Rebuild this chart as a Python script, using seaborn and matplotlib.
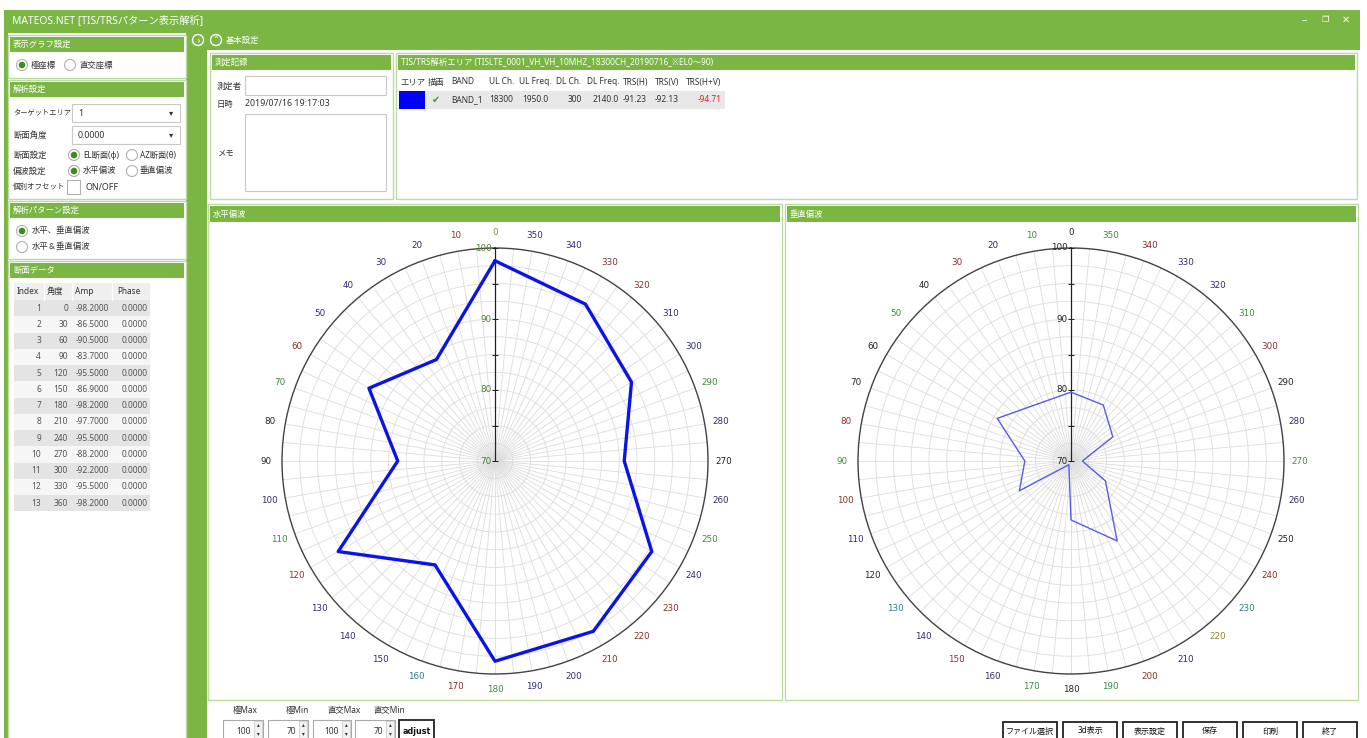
import numpy as np
import pandas as pd
import matplotlib
matplotlib.use("Agg")
import matplotlib.pyplot as plt
import seaborn as sns
from matplotlib.patches import Rectangle, Circle

# ---------------- data ----------------
angles = [0, 30, 60, 90, 120, 150, 180, 210, 240, 270, 300, 330, 360]
h_amp = [-98.2, -86.5, -90.5, -83.7, -95.5, -86.9, -98.2, -97.7, -95.5, -88.2, -92.2, -95.5, -98.2]
v_amp = [-79.7, -79.3, -82.0, -76.5, -78.4, -70.6, -78.3, -83.0, -75.6, -71.6, -76.8, -79.1, -79.7]
phase = [0.0, 0.0, 0.0, 0.0, 0.0, 0.0, 0.0, 0.0, 0.0, 0.0, 0.0, 0.0, 0.0]
row_index = [1, 2, 3, 4, 5, 6, 7, 8, 9, 10, 11, 12, 13]
r_min, r_max = 70, 100
radial_labels = [70, 80, 90, 100]

trs_header = ["エリア", "描画", "BAND", "UL Ch.", "UL Freq.", "DL Ch.", "DL Freq.", "TRS(H)", "TRS(V)", "TRS(H+V)"]
trs_row = ["", "✔", "BAND_1", "18300", "1950.0", "300", "2140.0", "-91.23", "-92.13", "-94.71"]

# label colours of angle ticks (0,10,...,350)
N, R, G, K, T, O = "#2e2e6e", "#8a2e2e", "#3f8a3f", "#222222", "#2a8080", "#8a8a2a"
h_label_colors = [O, R, N, N, N, N, R, G, K, K, N, G, R, N, N, N, T, R,
                  G, N, N, R, R, R, N, G, N, K, N, G, N, N, R, R, N, N]
v_label_colors = [K, G, N, R, K, G, K, K, R, G, R, N, K, T, N, R, N, G,
                  K, G, R, N, O, T, R, K, N, G, N, K, R, G, N, N, R, G]

# ---------------- style ----------------
sns.set_style("white")
plt.rcParams["font.family"] = ["Noto Sans", "Noto Sans CJK JP", "DejaVu Sans"]

W, H = 1367, 738
GREEN = "#7bb544"
LGREEN = "#bcdba0"
fig = plt.figure(figsize=(W / 100, H / 100), dpi=100)
fig.patch.set_facecolor("white")

bg = fig.add_axes([0, 0, 1, 1])
bg.set_xlim(0, W)
bg.set_ylim(H, 0)
bg.axis("off")
bg.set_zorder(0)

FS = 6.4
JS = 6.0


def rect(x, y, w, h, fc="white", ec="none", lw=1.0, z=1):
    bg.add_patch(Rectangle((x, y), w, h, fc=fc, ec=ec, lw=lw, zorder=z))


def txt(x, y, s, color="#333333", size=FS, ha="left", va="center", z=5, **kw):
    bg.text(x, y, s, color=color, fontsize=size, ha=ha, va=va, zorder=z, **kw)


def panel(x0, y0, x1, y1, title, hh=15):
    rect(x0, y0, x1 - x0, y1 - y0, fc="white", ec=LGREEN, lw=1)
    rect(x0 + 2, y0 + 2, x1 - x0 - 4, hh, fc=GREEN)
    txt(x0 + 5, y0 + 2 + hh / 2, title, color="white", size=6)


def radio(x, y, on):
    bg.add_patch(Circle((x, y), 5.5, fc="white", ec="#b0b0b0", lw=0.8, zorder=4))
    if on:
        bg.add_patch(Circle((x, y), 3.3, fc="#3c8f1e", ec="none", zorder=5))


# window frame
rect(4, 10, 1356, 740, fc=GREEN)
txt(12, 21, "MATEOS.NET [TIS/TRSパターン表示解析]", color="white", size=7.4)
txt(1301, 20, "–", color="white", size=8, family=["DejaVu Sans"])
txt(1321, 20, "❐", color="white", size=6, family=["DejaVu Sans"])
txt(1342, 20, "✕", color="white", size=7, family=["DejaVu Sans"])

# ---------------- left column ----------------
rect(8, 33, 178, 710, fc="white")
panel(8, 35, 186, 78, "表示グラフ設定")
radio(22, 65, True)
txt(31, 65, "極座標", size=JS)
radio(70, 65, False)
txt(80, 65, "直交座標", size=JS)

panel(8, 80, 186, 199, "解析設定")
txt(13, 113, "ターゲットエリア", size=5.2)
rect(72, 104, 108, 18, fc="white", ec="#c8c8c8", lw=0.8, z=3)
txt(78, 113, "1")
txt(169, 113, "▾", size=6, family=["DejaVu Sans"])
txt(13, 135, "断面角度", size=JS)
rect(72, 126, 108, 18, fc="white", ec="#c8c8c8", lw=0.8, z=3)
txt(78, 135, "0.0000")
txt(169, 135, "▾", size=6, family=["DejaVu Sans"])
txt(13, 155, "断面設定", size=JS)
radio(74, 155, True)
txt(83, 155, "EL断面(φ)", size=5.9)
radio(132, 155, False)
txt(140, 155, "AZ断面(θ)", size=5.9)
txt(13, 171, "偏波設定", size=JS)
radio(74, 171, True)
txt(83, 171, "水平偏波", size=JS)
radio(132, 171, False)
txt(140, 171, "垂直偏波", size=JS)
txt(13, 187, "個別オフセット", size=5.4)
rect(67, 180, 13, 14, fc="white", ec="#b0b0b0", lw=0.8, z=3)
txt(85, 187, "ON/OFF")

panel(8, 201, 186, 259, "解析パターン設定")
radio(22, 231, True)
txt(32, 231, "水平、垂直偏波", size=JS)
radio(22, 247, False)
txt(32, 247, "水平＆垂直偏波", size=JS)

panel(8, 261, 186, 745, "断面データ")
col_edges = [14, 44, 72, 112, 150]
rect(14, 283, 136, 17, fc="#efefef", z=2)
for cx in col_edges[1:-1]:
    bg.plot([cx, cx], [283, 300], color="white", lw=1, zorder=3)
for cx, name in zip([17, 47, 75, 117], ["Index", "角度", "Amp", "Phase"]):
    txt(cx, 291.5, name, size=6)
row_h = 16.25
for i, (idx, ang, amp, ph) in enumerate(zip(row_index, angles, h_amp, phase)):
    y0 = 300 + i * row_h
    rect(14, y0, 136, row_h, fc="#e4e4e4" if i % 2 == 0 else "#f6f6f6", z=2)
    yc = y0 + row_h / 2
    txt(41, yc, f"{idx}", ha="right", size=6, color="#555555")
    txt(68, yc, f"{ang}", ha="right", size=6, color="#555555")
    txt(109, yc, f"{amp:.4f}", ha="right", size=6, color="#555555")
    txt(148, yc, f"{ph:.4f}", ha="right", size=6, color="#555555")

# ---------------- main area ----------------
rect(207, 50, 1153, 700, fc="white")
bg.add_patch(Circle((198, 40), 5.5, fc="none", ec="white", lw=1, zorder=4))
txt(198, 40.5, "›", color="white", size=7, ha="center", family=["DejaVu Sans"])
bg.add_patch(Circle((216, 40), 5.5, fc="none", ec="white", lw=1, zorder=4))
txt(216, 41, "˄", color="white", size=7, ha="center", family=["DejaVu Sans"])
txt(226, 40, "基本設定", color="white", size=6)

# 測定記録
panel(210, 53, 393, 199, "測定記録")
txt(217, 86, "測定者", size=JS)
rect(245, 76, 141, 19, fc="white", ec="#c8c8c8", lw=0.8, z=3)
txt(217, 104, "日時", size=JS)
txt(245, 104, "2019/07/16 19:17:03")
txt(217, 153, "メモ", size=JS)
rect(245, 114, 141, 77, fc="white", ec="#c8c8c8", lw=0.8, z=3)

# TIS/TRS
panel(396, 53, 1357, 199, "TIS/TRS解析エリア (TISLTE_0001_VH_VH_10MHZ_18300CH_20190716_※EL0〜90)")
hx = [400, 428, 451, 489, 519, 556, 587, 623, 655, 686]
for x, s in zip(hx, trs_header):
    txt(x, 82, s, size=6)
rect(399, 91, 326, 18, fc="#e8e8e8", z=2)
rect(399, 91, 26, 18, fc="#0000ff", z=3)
txt(419, 100, "1.0", color="#1010c0", size=5.5, ha="center")
row_x = [None, 436, 451, 489, 548, 582, 619, 623, 655, 722]
row_ha = [None, "center", "left", "left", "right", "right", "right", "left", "left", "right"]
for x, s, ha in zip(row_x, trs_row, row_ha):
    if x is None:
        continue
    if s == "✔":
        txt(x, 100, s, color="#3a9a2a", size=7, ha=ha, family=["DejaVu Sans"])
    else:
        txt(x, 100, s, ha=ha, size=6, color="#e02020" if s == trs_row[-1] else "#333333")

# chart panels
panel(208, 204, 782, 700, "水平偏波", hh=16)
panel(785, 204, 1358, 700, "垂直偏波", hh=16)

# bottom controls
for x, s in zip([233, 286, 327, 373], ["極Max", "極Min", "直交Max", "直交Min"]):
    txt(x, 711, s, size=6)
for x0, w, s in [(223, 40, "100"), (268, 40, "70"), (313, 38, "100"), (355, 40, "70")]:
    rect(x0, 720, w, 22, fc="white", ec="#aaaaaa", lw=0.8, z=3)
    rect(x0 + w - 9, 721, 8, 20, fc="#f2f2f2", ec="#cccccc", lw=0.6, z=4)
    txt(x0 + w - 12, 731, s, ha="right", size=6)
    txt(x0 + w - 5, 725, "▴", size=4, ha="center", family=["DejaVu Sans"])
    txt(x0 + w - 5, 734, "▾", size=4, ha="center", family=["DejaVu Sans"])
rect(399, 720, 35, 22, fc="white", ec="#222222", lw=1.3, z=3)
txt(416.5, 731, "adjust", ha="center", color="#111111", weight="bold", size=5.8,
    family=["DejaVu Sans"])
for i, s in enumerate(["ファイル選択", "3d表示", "表示設定", "保存", "印刷", "終了"]):
    x0 = 1003 + i * 60
    rect(x0, 722, 54, 22, fc="white", ec="#222222", lw=1.3, z=3)
    txt(x0 + 27, 731, s, ha="center", color="#111111", size=5.8)


# ---------------- polar charts ----------------
def polar_chart(cx, amp, color, lw, label_colors, rlabel_color):
    rad = 213
    ax = fig.add_axes([(cx - rad) / W, (H - 461 - rad) / H, 2 * rad / W, 2 * rad / H],
                      projection="polar")
    ax.set_zorder(2)
    ax.set_theta_zero_location("N")
    ax.set_theta_direction(1)
    df = pd.DataFrame({"theta": np.deg2rad(angles), "r": [-a for a in amp]})
    sns.lineplot(data=df, x="theta", y="r", sort=False, estimator=None,
                 color=color, lw=lw, ax=ax, zorder=5)
    ax.set_xlabel("")
    ax.set_ylabel("")
    ax.set_ylim(r_min, r_max)
    ticks_deg = list(range(0, 360, 5))
    ax.set_xticks(np.deg2rad(ticks_deg))
    ax.set_xticklabels([str(d) if d % 10 == 0 else "" for d in ticks_deg],
                       family=["DejaVu Sans"], fontsize=6.3)
    labs = [t for t, d in zip(ax.get_xticklabels(), ticks_deg) if d % 10 == 0]
    for t, c in zip(labs, label_colors):
        t.set_color(c)
    ax.tick_params(axis="x", pad=1)
    ax.set_yticks([70, 72.5, 75, 77.5, 80, 82.5, 85, 87.5, 90, 92.5, 95, 97.5, 100])
    ax.set_yticklabels([])
    ax.grid(True, color="#dcdcdc", lw=0.6)
    ax.spines["polar"].set_color("#444444")
    ax.spines["polar"].set_linewidth(1.0)
    # vertical axis line with ticks
    ax.plot([0, 0], [r_min, r_max], color="#222222", lw=0.9, zorder=4)
    ax.plot([0] * 7, [70, 75, 80, 85, 90, 95, 100], ls="none", marker="_",
            ms=5, mew=0.7, color="#222222", zorder=4)
    for r in radial_labels:
        ax.annotate(str(r), xy=(0, r), xytext=(-2.5, 0), textcoords="offset points",
                    ha="right", va="center", fontsize=6.3, color=rlabel_color,
                    family=["DejaVu Sans"], zorder=6)
    return ax


polar_chart(495, h_amp, "#0a14e6", 2.4, h_label_colors, "#4f7f3a")
polar_chart(1071, v_amp, "#5a5ae8", 1.0, v_label_colors, "#222222")

fig.savefig("out.png", dpi=100, facecolor="white")
